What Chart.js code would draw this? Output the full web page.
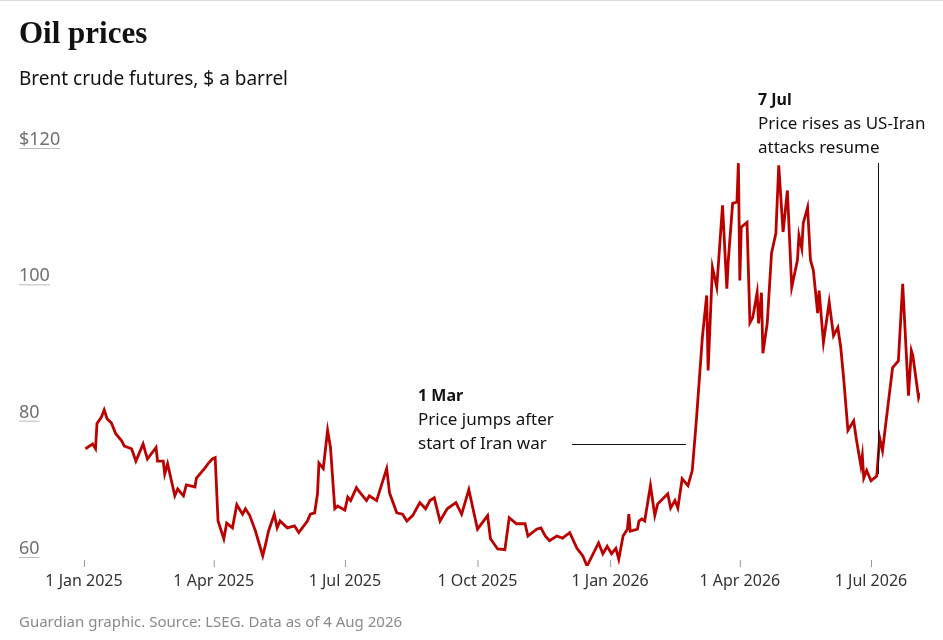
<!DOCTYPE html>
<html>
<head>
<meta charset="utf-8">
<script src="https://cdn.jsdelivr.net/npm/chart.js@4"></script>
<style>
  body { margin: 0; background: #fff; }
  #wrap { position: relative; width: 943px; height: 640px; border-top: 1px solid #dcdcdc; box-sizing: border-box; }
  canvas { position: absolute; left: 0; top: 0; }
</style>
</head>
<body>
<div id="wrap"><canvas id="chart" width="943" height="639"></canvas></div>
<script>
// days since 1 Jan 2025
const days = [1,6,8,9,12,14,16,19,22,26,28,33,36,41,44,50,51,55,56,58,63,65,69,71,77,78,84,86,89,91,93,97,99,103,106,110,112,115,119,124,126,128,132,134,136,141,146,149,155,157,160,162,163,166,169,171,174,176,181,183,185,189,191,196,
  198,203,210,212,217,221,224,228,233,237,240,243,247,252,258,262,267,273,280,282,287,292,295,300,306,308,314,317,320,323,328,332,337,342,346,349,357,360,363,366,369,371,374,377,378,379,384,385,387,389,393,396,398,405,407,410,
  412,415,419,422,425,429,432,433,436,439,443,446,447,450,453,454,455,456,460,462,464,467,468,470,471,474,477,480,482,485,488,491,495,496,498,499,502,504,506,509,510,513,517,520,523,525,527,530,534,536,539,540,541,543,546,550,552,554,559,561,565,568,572,574,575,579,580];
const prices = [74.7,75.4,74.7,78.4,79.3,80.4,79.1,78.5,76.9,75.9,75.1,74.7,72.9,75.4,73.2,74.9,72.9,72.9,71.0,72.5,67.8,68.8,67.8,69.4,69.1,70.4,71.9,72.5,73.2,73.4,64.1,61.5,63.8,63.1,66.5,65.1,65.9,64.9,62.6,59.0,60.7,62.6,65.1,63.1,64.1,63.1,63.4,62.4,64.1,65.1,65.3,68.1,72.6,71.8,77.4,74.9,65.9,66.3,65.7,67.6,67.1,69.0,68.4,67.1,
  67.8,67.1,71.8,68.2,65.3,65.1,64.1,64.9,66.8,65.9,67.1,67.5,64.1,65.9,66.8,65.1,68.7,62.9,64.9,61.5,60.0,59.9,64.6,63.7,63.7,61.9,62.9,63.1,61.9,61.2,61.9,61.6,62.4,60.1,59.0,57.5,60.9,59.3,60.4,59.3,60.1,58.5,61.9,62.9,65.1,62.6,62.9,64.1,64.4,64.1,69.3,64.9,66.6,68.1,66.0,67.1,
  66.0,70.3,69.3,71.5,79.3,91.0,97.2,86.2,101.3,98.4,110.4,98.2,102.3,110.7,110.9,116.6,99.4,107.2,107.9,93.2,94.0,97.6,93.1,97.6,88.7,93.1,103.4,106.3,116.3,106.5,112.6,98.4,102.4,106.0,104.1,107.8,110.1,102.4,100.9,94.6,97.9,90.3,96.2,91.3,92.5,89.6,85.1,77.4,78.8,75.9,72.2,73.7,70.4,71.5,70.0,70.7,76.3,74.4,83.2,86.6,87.6,98.9,82.5,89.1,88.4,82.2,82.9];
const xTickDays = [0, 90, 181, 273, 365, 455, 546];
const xTickLabels = ["1 Jan 2025", "1 Apr 2025", "1 Jul 2025", "1 Oct 2025", "1 Jan 2026", "1 Apr 2026", "1 Jul 2026"];
const yTicks = [120, 100, 80, 60];
const yTickLabels = ["$120", "100", "80", "60"];

const sans = "'Noto Sans', sans-serif";

const decor = {
  id: "decor",
  afterDraw(c) {
    const ctx = c.ctx, x = c.scales.x, y = c.scales.y;
    ctx.save();
    // titles
    ctx.fillStyle = "#121212";
    ctx.textBaseline = "alphabetic";
    ctx.font = "bold 31px 'Liberation Serif', serif";
    ctx.fillText("Oil prices", 19, 42);
    ctx.font = "19px " + sans;
    ctx.fillText("Brent crude futures, $ a barrel", 19, 84);
    // y labels
    ctx.font = "18px " + sans;
    yTicks.forEach((v, i) => {
      const py = y.getPixelForValue(v);
      ctx.fillStyle = "#707070";
      ctx.fillText(yTickLabels[i], 19, py + 5);
      const w = ctx.measureText(yTickLabels[i]).width;
      ctx.fillStyle = "#bbb";
      ctx.fillRect(19, py + 8, w, 1);
    });
    // x ticks
    ctx.font = "16px " + sans;
    ctx.textAlign = "center";
    xTickDays.forEach((d, i) => {
      const px = x.getPixelForValue(d);
      ctx.fillStyle = "#999";
      ctx.fillRect(px, 559, 1, 7);
      ctx.fillStyle = "#333";
      ctx.fillText(xTickLabels[i], px, 585);
    });
    ctx.textAlign = "left";
    // footer
    ctx.font = "15px " + sans;
    ctx.fillStyle = "#8a8a8a";
    ctx.fillText("Guardian graphic. Source: LSEG. Data as of 4 Aug 2026", 19, 626);
    // annotations
    ctx.fillStyle = "#121212";
    ctx.font = "bold 16px " + sans;
    ctx.fillText("1 Mar", 418, 400);
    ctx.fillText("7 Jul", 758, 104);
    ctx.font = "17px " + sans;
    ctx.fillText("Price jumps after", 418, 424);
    ctx.fillText("start of Iran war", 418, 448);
    ctx.fillText("Price rises as US-Iran", 758, 128);
    ctx.fillText("attacks resume", 758, 152);
    ctx.strokeStyle = "#121212";
    ctx.lineWidth = 1;
    ctx.beginPath();
    ctx.moveTo(572, 443.5);
    ctx.lineTo(x.getPixelForValue(419) - 2, 443.5);
    const jx = Math.round(x.getPixelForValue(551)) + 0.5;
    ctx.moveTo(jx, 162);
    ctx.lineTo(jx, y.getPixelForValue(71));
    ctx.stroke();
    ctx.restore();
  }
};

new Chart(document.getElementById("chart"), {
  type: "line",
  data: {
    datasets: [{
      data: days.map((d, i) => ({ x: d, y: prices[i] })),
      borderColor: "#bb0000",
      borderWidth: 2.8,
      pointRadius: 0,
      tension: 0
    }]
  },
  options: {
    responsive: false,
    animation: false,
    layout: { padding: { left: 84, right: 23, top: 139, bottom: 74 } },
    plugins: { legend: { display: false }, tooltip: { enabled: false } },
    scales: {
      x: { type: "linear", min: 0, max: 580, display: false },
      y: { min: 57.5, max: 120, display: false }
    }
  },
  plugins: [decor]
});
</script>
</body>
</html>
